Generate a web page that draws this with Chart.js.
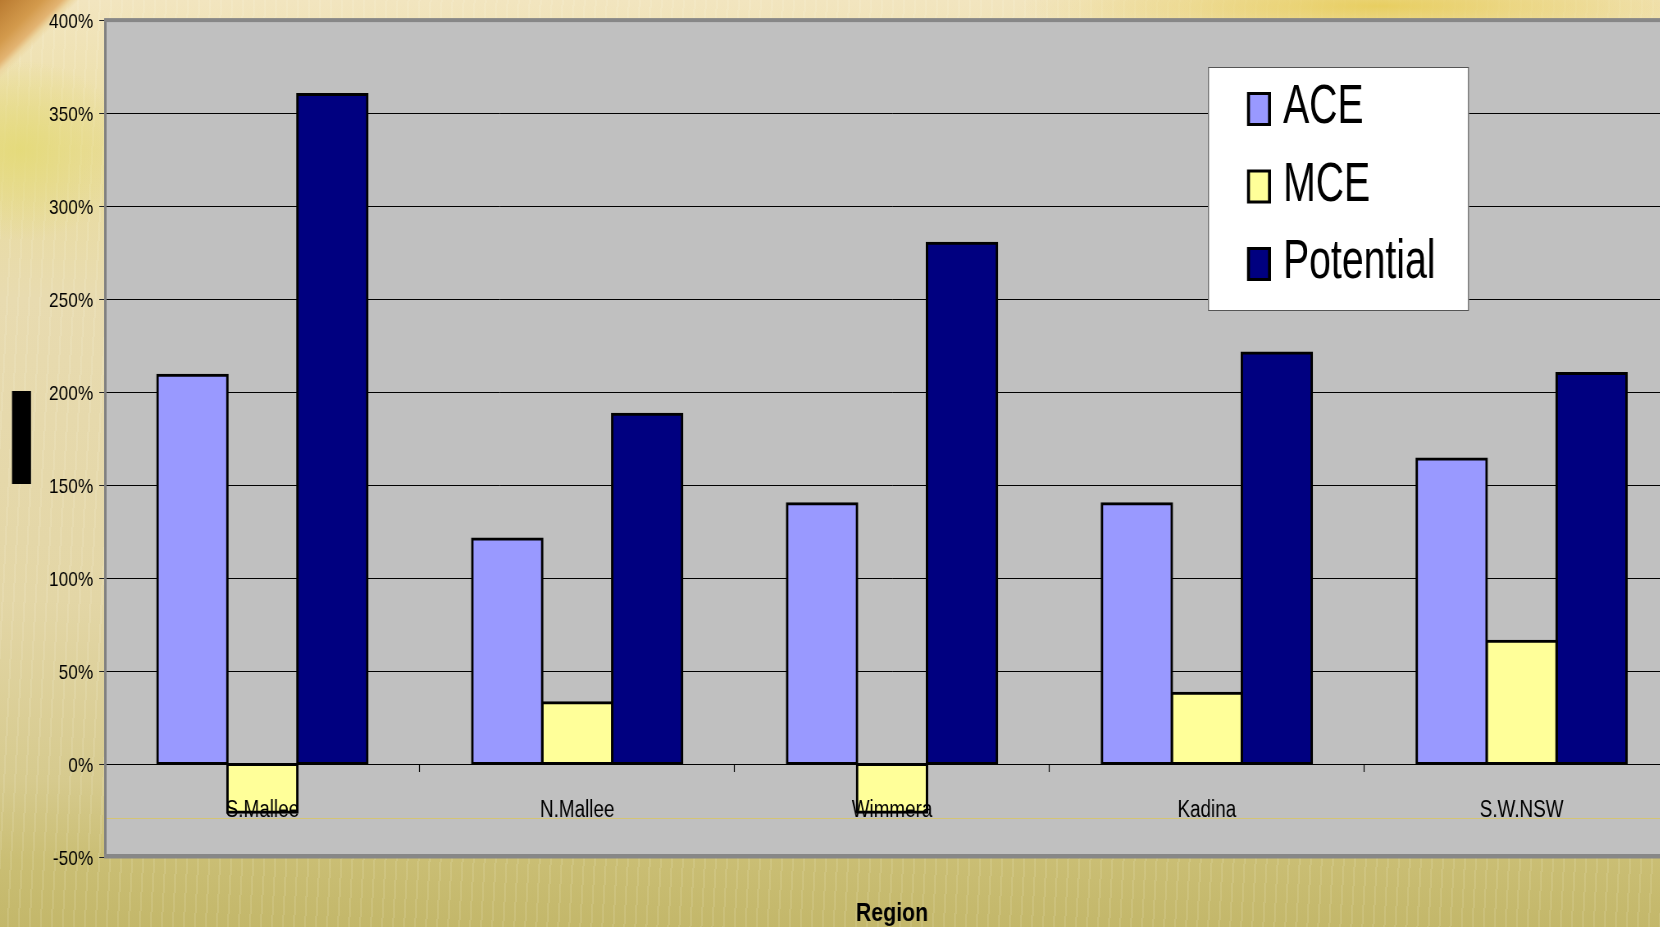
<!DOCTYPE html>
<html>
<head>
<meta charset="utf-8">
<script src="https://cdn.jsdelivr.net/npm/chart.js@4.4.1/dist/chart.umd.min.js"></script>
<style>
  html, body { margin: 0; padding: 0; }
  body {
    width: 1660px; height: 927px; overflow: hidden; position: relative;
    background:
      linear-gradient(135deg, #b97a30 0px, #d39a4c 30px, #e3b472 44px, #ecd6a0 50px, rgba(240,228,188,0) 56px),
      radial-gradient(ellipse 360px 40px at 1380px 6px, rgba(230,202,80,0.85), rgba(230,202,80,0)),
      radial-gradient(ellipse 110px 90px at 20px 150px, rgba(228,218,120,0.9), rgba(228,218,120,0)),
      repeating-linear-gradient(93deg, rgba(255,255,240,0.10) 0px, rgba(255,255,240,0.10) 2px, rgba(0,0,0,0) 2px, rgba(0,0,0,0) 11px),
      linear-gradient(to bottom, #f2e5bf 0px, #efe2b4 60px, #e9dc9c 150px, #e8dbb0 300px, #e3d6a6 600px, #d6ca8e 780px, #cabe74 860px, #c3b76a 927px);
  }
  #wrap { position: absolute; left: 0; top: 0; width: 1710px; height: 927px; overflow: hidden; }
  #c { display: block; transform: scaleX(0.82); transform-origin: 0 0; }
</style>
</head>
<body>
<div id="wrap"><canvas id="c" width="2074" height="927"></canvas></div>
<script>
// ---- data ----
const categories = ['S.Mallee', 'N.Mallee', 'Wimmera', 'Kadina', 'S.W.NSW'];
const seriesNames = ['ACE', 'MCE', 'Potential'];
const aceValues = [209, 121, 140, 140, 164];
const mceValues = [-26, 33, -26, 38, 66];
const potentialValues = [360, 188, 280, 221, 210];
const yTickValues = [-50, 0, 50, 100, 150, 200, 250, 300, 350, 400];
const axisTitleX = 'Region';

const SX = 0.82; // horizontal compression applied to the canvas (condensed look)
const FONT = '"Liberation Sans", Arial, sans-serif';

const plotFrame = {
  id: 'plotFrame',
  beforeDraw(chart) {
    const {ctx, chartArea: a} = chart;
    ctx.save();
    ctx.fillStyle = '#c0c0c0';
    ctx.fillRect(a.left, a.top, a.right - a.left, a.bottom - a.top);
    ctx.restore();
  },
  afterDraw(chart) {
    const {ctx, chartArea: a} = chart;
    ctx.save();
    // faint decorative line near bottom of plot
    ctx.strokeStyle = 'rgba(214,196,110,0.9)';
    ctx.lineWidth = 1;
    ctx.beginPath();
    ctx.moveTo(a.left + 2, a.bottom - 38.5);
    ctx.lineTo(a.right, a.bottom - 38.5);
    ctx.stroke();
    // frame top & bottom
    ctx.fillStyle = '#878787';
    ctx.fillRect(a.left - 1, a.top - 2, a.right - a.left + 1, 4);
    ctx.fillRect(a.left - 1, a.bottom - 3, a.right - a.left + 1, 4.5);
    // garbled y-axis title block (in page coordinates)
    ctx.scale(1 / SX, 1);
    ctx.fillStyle = '#000';
    ctx.fillRect(12, 391, 19, 93);
    ctx.restore();
  }
};

const boxLegend = {
  id: 'boxLegend',
  afterDraw(chart) {
    const {ctx} = chart;
    ctx.save();
    ctx.scale(1 / SX, 1); // work in page coordinates
    const bx = 1208, by = 67, bw = 261, bh = 244;
    ctx.fillStyle = '#ffffff';
    ctx.fillRect(bx, by, bw, bh);
    ctx.strokeStyle = '#555';
    ctx.lineWidth = 1;
    ctx.strokeRect(bx + 0.5, by + 0.5, bw - 1, bh - 1);
    chart.data.datasets.forEach((ds, i) => {
      const base = 123 + i * 77.5;
      ctx.fillStyle = '#000';
      ctx.fillRect(1247, base - 31, 24, 34);
      ctx.fillStyle = ds.backgroundColor;
      ctx.fillRect(1250, base - 28, 18, 28);
      ctx.save();
      ctx.translate(1283, base);
      ctx.scale(0.70, 1);
      ctx.fillStyle = '#000';
      ctx.font = '56px ' + FONT;
      ctx.textBaseline = 'alphabetic';
      ctx.textAlign = 'left';
      ctx.fillText(ds.label, 0, 0);
      ctx.restore();
    });
    ctx.restore();
  }
};

const barCommon = {
  borderColor: '#000000',
  borderWidth: 3,
  borderSkipped: false,
  inflateAmount: 1.5,
  categoryPercentage: 3 / 4.5,
  barPercentage: 1.0
};

new Chart(document.getElementById('c'), {
  type: 'bar',
  data: {
    labels: categories,
    datasets: [
      Object.assign({label: seriesNames[0], data: aceValues, backgroundColor: '#9999ff'}, barCommon),
      Object.assign({label: seriesNames[1], data: mceValues, backgroundColor: '#ffff99'}, barCommon),
      Object.assign({label: seriesNames[2], data: potentialValues, backgroundColor: '#000080'}, barCommon)
    ]
  },
  options: {
    responsive: false,
    animation: false,
    devicePixelRatio: 1,
    layout: { padding: { top: 18, right: 26.4, left: 0, bottom: 0 } },
    plugins: {
      legend: { display: false },
      tooltip: { enabled: false },
      title: {
        display: true,
        text: axisTitleX,
        position: 'bottom',
        fullSize: false,
        color: '#000',
        font: { family: FONT, size: 26, weight: 'bold', lineHeight: 1.0 },
        padding: { top: 44, bottom: 0 }
      }
    },
    scales: {
      x: {
        type: 'category',
        position: { y: 0 },
        offset: true,
        grid: { display: true, drawOnChartArea: false, offset: true, tickLength: 8, tickColor: '#000', tickWidth: 1.2 },
        border: { display: false },
        ticks: { z: 1, color: '#000', font: { family: FONT, size: 23 }, padding: 25, maxRotation: 0, autoSkip: false }
      },
      y: {
        min: -50,
        max: 400,
        afterBuildTicks(scale) { scale.ticks = yTickValues.map(v => ({value: v})); },
        afterFit(scale) { scale.width = 105 / SX; },
        grid: { color: '#000', lineWidth: 1, tickLength: 7, tickColor: '#222', drawTicks: true },
        border: { display: true, color: '#808080', width: 3 },
        ticks: {
          color: '#000',
          font: { family: FONT, size: 21 },
          padding: 7.5,
          labelOffset: 2,
          callback: v => v + '%'
        }
      }
    }
  },
  plugins: [plotFrame, boxLegend]
});
</script>
</body>
</html>
